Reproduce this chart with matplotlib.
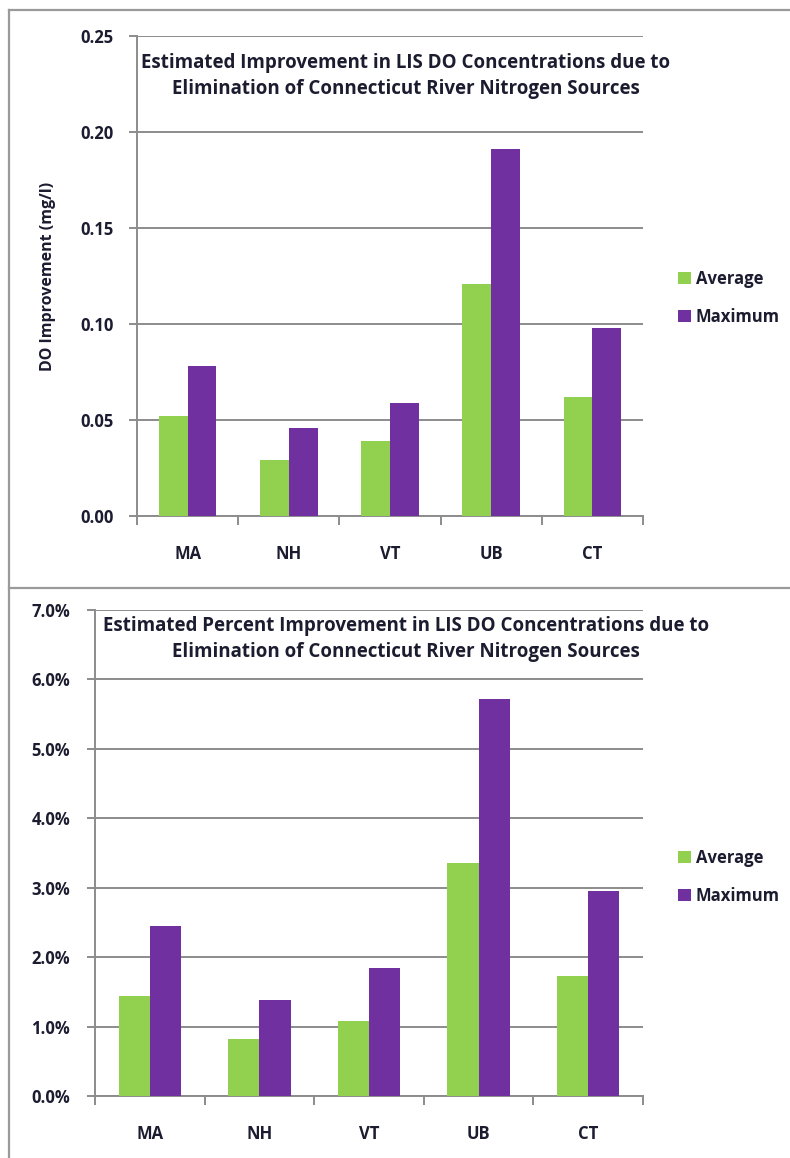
import matplotlib
matplotlib.use("Agg")
import matplotlib.pyplot as plt
from matplotlib.lines import Line2D
from matplotlib.patches import Patch
import numpy as np

categories = ["MA", "NH", "VT", "UB", "CT"]
do_average = [0.052, 0.029, 0.039, 0.121, 0.062]
do_maximum = [0.078, 0.046, 0.059, 0.191, 0.098]
pct_average = [0.0144, 0.0082, 0.0108, 0.0336, 0.0173]
pct_maximum = [0.0245, 0.0138, 0.0184, 0.0572, 0.0295]
series_names = ["Average", "Maximum"]
title_top = "Estimated Improvement in LIS DO Concentrations due to\nElimination of Connecticut River Nitrogen Sources"
title_bottom = "Estimated Percent Improvement in LIS DO Concentrations due to\nElimination of Connecticut River Nitrogen Sources"
ylabel_top = "DO Improvement (mg/l)"

GREEN = "#92D050"
PURPLE = "#7030A0"
GRID = "#8c8c8c"
TXT = "#1c1c30"
FONT = ["Open Sans", "DejaVu Sans"]

W, H = 790, 1158
fig = plt.figure(figsize=(W / 100, H / 100), dpi=100)

def fx(px):
    return px / W

def fy(py):
    return 1 - py / H

# panel borders
for (x0, y0, x1, y1) in [(9, 10, 790, 10), (9, 10, 9, 1158), (9, 588, 790, 588)]:
    fig.add_artist(Line2D([fx(x0), fx(x1)], [fy(y0), fy(y1)], color="#9a9a9a", lw=1.6,
                          transform=fig.transFigure))


def make_panel(rect, avg, mx, ymax, ystep, fmt, title, title_y, ylabel, legend_y, ypad):
    ax = fig.add_axes(rect)
    x = np.arange(len(categories))
    bw = 0.285
    ax.bar(x - bw / 2, avg, width=bw, color=GREEN, zorder=3)
    ax.bar(x + bw / 2, mx, width=bw, color=PURPLE, zorder=3)
    ax.set_xlim(-0.5, len(categories) - 0.5)
    ax.set_ylim(0, ymax)
    yt = np.arange(0, ymax + ystep / 2, ystep)
    ax.set_yticks(yt)
    ax.set_yticklabels([fmt(v) for v in yt], fontsize=12, fontweight="bold",
                       color=TXT, family=FONT)
    ax.yaxis.grid(True, color=GRID, lw=1.4, zorder=0)
    ax.set_axisbelow(True)
    ax.set_xticks(x)
    ax.set_xticklabels(categories, fontsize=12, fontweight="bold", color=TXT, family=FONT)
    ax.set_xticks(np.arange(-0.5, len(categories), 1.0), minor=True)
    ax.tick_params(axis="x", which="major", length=0, pad=21)
    ax.tick_params(axis="x", which="minor", length=6.5, width=1.4, color=GRID)
    ax.tick_params(axis="y", length=6, width=1.4, color=GRID, pad=ypad)
    for s in ["top", "right"]:
        ax.spines[s].set_visible(False)
    for s in ["left", "bottom"]:
        ax.spines[s].set_color(GRID)
        ax.spines[s].set_linewidth(1.4)
    fig.text(fx(406), fy(title_y), title, ha="center", va="center", fontsize=13.5,
             fontweight="bold", color=TXT, family=FONT, linespacing=1.4)
    if ylabel:
        ax.set_ylabel(ylabel, fontsize=11.5, fontweight="bold", color=TXT, family=FONT,
                      labelpad=17)
    handles = [Patch(facecolor=GREEN), Patch(facecolor=PURPLE)]
    fig.legend(handles, series_names, loc="center left",
               bbox_to_anchor=(fx(663), fy(legend_y)), frameon=False,
               prop={"family": FONT, "weight": "bold", "size": 12},
               handlelength=0.75, handleheight=0.75, handletextpad=0.3,
               labelspacing=1.2, labelcolor=TXT)
    return ax


make_panel([fx(137), fy(516), fx(643) - fx(137), fy(36) - fy(516)],
           do_average, do_maximum, 0.25, 0.05, lambda v: f"{v:.2f}",
           title_top, 76, ylabel_top, 298, 11)
make_panel([fx(95), fy(1096), fx(643) - fx(95), fy(610) - fy(1096)],
           pct_average, pct_maximum, 0.07, 0.01, lambda v: f"{v * 100:.1f}%",
           title_bottom, 638.5, None, 877, 12)

fig.savefig("out.png", dpi=100)
